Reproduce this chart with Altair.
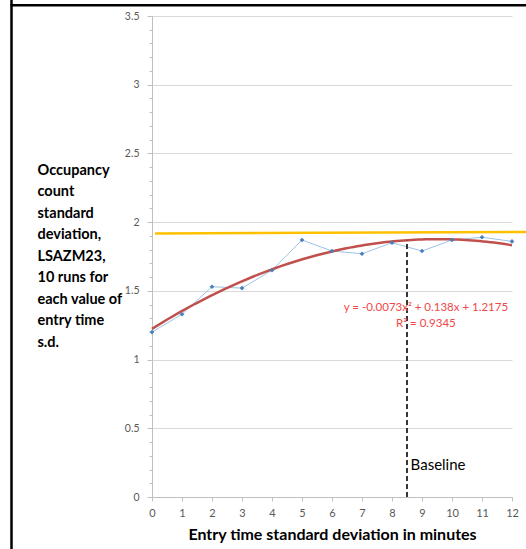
import altair as alt
import pandas as pd

# data
sd_minutes = [0, 1, 2, 3, 4, 5, 6, 7, 8, 9, 10, 11, 12]
occupancy_sd = [1.20, 1.33, 1.53, 1.52, 1.65, 1.87, 1.79, 1.77, 1.85, 1.79, 1.87, 1.89, 1.86]

yellow_x = [0.1, 12.47]
yellow_y = [1.918, 1.929]

baseline_x = [8.5, 8.5]
baseline_y = [0.0, 1.865]

eq_lines = ["y = -0.0073x\u00b2 + 0.138x + 1.2175", "R\u00b2 = 0.9345"]
eq_x = [9.13, 9.13]
eq_y = [1.375, 1.259]

y_major = [0, 0.5, 1, 1.5, 2, 2.5, 3, 3.5]
y_minor = [round(i * 0.1, 1) for i in range(36)]
x_ticks = list(range(13))

y_title = ["Occupancy", "count", "standard", "deviation,", "LSAZM23,",
           "10 runs for", "each value of", "entry time", "s.d."]

FONT = "Lato"

df = pd.DataFrame({"x": sd_minutes, "y": occupancy_sd})
df_yel = pd.DataFrame({"x": yellow_x, "y": yellow_y})
df_base = pd.DataFrame({"x": baseline_x, "y": baseline_y})
df_eq = pd.DataFrame({"x": eq_x, "y": eq_y, "t": eq_lines})
df_lbl = pd.DataFrame({"x": [8.62], "y": [0.23], "t": ["Baseline"]})
one = pd.DataFrame({"a": [0]})

xscale = alt.Scale(domain=[0, 12], nice=False, zero=False)
yscale = alt.Scale(domain=[0, 3.5], nice=False)

xaxis = alt.Axis(values=x_ticks, title="Entry time standard deviation in minutes",
                 grid=False, tickSize=4, tickColor="#bfbfbf", domainColor="#bfbfbf",
                 labelFont=FONT, labelFontSize=11, labelColor="#595959", labelPadding=6,
                 labelOverlap=False, labelBound=False, labelFlush=False,
                 titleFont=FONT, titleFontSize=16, titleFontWeight="bold",
                 titleColor="black", titlePadding=8)

X = alt.X("x:Q", scale=xscale, axis=xaxis)

yaxis_major = alt.Axis(values=y_major, format="~g", orient="left",
                       grid=True, gridColor="#d9d9d9", gridWidth=1,
                       tickSize=5, tickColor="#bfbfbf", domainColor="#bfbfbf",
                       labelFont=FONT, labelFontSize=10.5, labelColor="#595959",
                       labelPadding=8, labelOverlap=False,
                       title=y_title, titleAngle=0, titleAlign="left",
                       titleBaseline="top", titleX=-115, titleY=147,
                       titleFont=FONT, titleFontSize=14.5, titleFontWeight="bold",
                       titleColor="black", titleLineHeight=21.5)

yaxis_minor = alt.Axis(values=y_minor, orient="left", labels=False, grid=False,
                       domain=False, tickSize=3, tickColor="#bfbfbf", title=None)

blue_line = alt.Chart(df).mark_line(color="#9dc3e6", strokeWidth=1).encode(
    x=X,
    y=alt.Y("y:Q", scale=yscale, axis=yaxis_major),
)

minor = alt.Chart(df).mark_point(opacity=0).encode(
    x=X,
    y=alt.Y("y:Q", scale=yscale, axis=yaxis_minor),
)

yellow = alt.Chart(df_yel).mark_line(color="#ffc000", strokeWidth=2.5, clip=False).encode(
    x=X,
    y=alt.Y("y:Q", scale=yscale, axis=None),
)

trend = alt.Chart(df).transform_regression(
    "x", "y", method="poly", order=2, extent=[0, 12]
).mark_line(color="#c0504d", strokeWidth=2.5).encode(
    x=X,
    y=alt.Y("y:Q", scale=yscale, axis=None),
)

points = alt.Chart(df).mark_point(shape="diamond", filled=True, color="#4a7ebb",
                                  size=22, opacity=1).encode(
    x=X,
    y=alt.Y("y:Q", scale=yscale, axis=None),
)

dashed = alt.Chart(df_base).mark_line(color="#222222", strokeWidth=1.8,
                                      strokeDash=[5, 3]).encode(
    x=X,
    y=alt.Y("y:Q", scale=yscale, axis=None),
)

eq_text = alt.Chart(df_eq).mark_text(color="#f04848", font=FONT, fontSize=11.5,
                                     align="center", baseline="middle").encode(
    x=X,
    y=alt.Y("y:Q", scale=yscale, axis=None),
    text="t:N",
)

lbl_text = alt.Chart(df_lbl).mark_text(color="black", font=FONT, fontSize=15,
                                       align="left", baseline="middle").encode(
    x=X,
    y=alt.Y("y:Q", scale=yscale, axis=None),
    text="t:N",
)

frame_left = alt.Chart(one).mark_rule(color="black", strokeWidth=2.5).encode(
    x=alt.value(-140.5), y=alt.value(-16), y2=alt.value(533))
frame_top = alt.Chart(one).mark_rule(color="black", strokeWidth=2.5).encode(
    x=alt.value(-141.5), x2=alt.value(374), y=alt.value(-10.7))

chart = alt.layer(
    blue_line, minor, yellow, trend, points, dashed, eq_text, lbl_text,
    frame_left, frame_top,
).resolve_axis(y="independent").properties(
    width=360, height=481,
    autosize=alt.AutoSizeParams(type="none"),
    padding={"left": 152, "top": 16, "right": 14, "bottom": 52},
    background="white",
).configure_view(stroke=None)

chart.save("out.html", embed_options={"renderer": "svg", "actions": False})
